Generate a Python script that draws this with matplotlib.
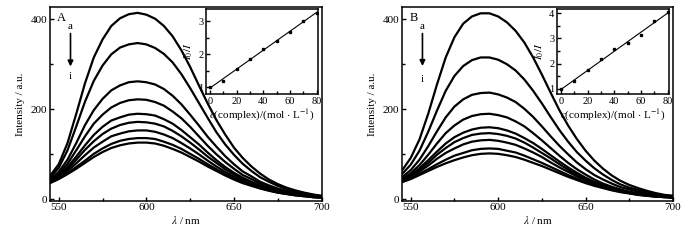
import numpy as np
import matplotlib
matplotlib.use("Agg")
import matplotlib.pyplot as plt
from matplotlib.ticker import MultipleLocator

plt.rcParams['font.family'] = ['Liberation Serif', 'DejaVu Serif']
plt.rcParams['mathtext.fontset'] = 'stix'

wavelength = list(range(545, 701, 5))

spectra_A = {
    'a': [52, 78, 125, 190, 258, 315, 355, 385, 402, 411, 414, 410, 401, 385, 362, 331, 294, 253, 213, 176, 144, 115, 92, 73, 57, 44, 34, 26, 20, 15, 11, 8],
    'b': [48, 70, 109, 162, 217, 263, 297, 322, 337, 344, 347, 344, 336, 323, 304, 278, 247, 214, 181, 149, 122, 99, 79, 63, 49, 39, 30, 23, 17, 14, 10, 7],
    'c': [44, 61, 88, 125, 165, 198, 223, 242, 253, 260, 262, 260, 255, 245, 230, 211, 188, 164, 139, 117, 96, 78, 62, 51, 39, 31, 24, 19, 14, 11, 8, 5],
    'd': [41, 56, 79, 109, 140, 168, 188, 204, 214, 220, 222, 221, 216, 208, 195, 180, 161, 140, 119, 100, 83, 68, 54, 45, 35, 27, 22, 16, 13, 10, 7, 5],
    'e': [40, 52, 72, 95, 120, 143, 161, 175, 182, 188, 190, 189, 186, 178, 168, 154, 138, 122, 104, 87, 72, 59, 48, 39, 31, 24, 19, 15, 11, 9, 6, 5],
    'f': [39, 50, 67, 88, 110, 129, 145, 157, 165, 170, 172, 171, 168, 162, 152, 140, 126, 111, 95, 81, 67, 55, 45, 37, 29, 23, 18, 14, 11, 8, 6, 4],
    'g': [38, 48, 63, 80, 98, 115, 128, 140, 146, 151, 153, 153, 150, 144, 136, 125, 113, 100, 86, 73, 61, 50, 41, 33, 26, 21, 16, 13, 10, 8, 5, 4],
    'h': [37, 46, 58, 72, 86, 101, 113, 123, 130, 134, 136, 136, 134, 128, 121, 112, 101, 90, 78, 67, 56, 46, 38, 31, 25, 20, 15, 12, 9, 7, 5, 4],
    'i': [36, 45, 56, 68, 81, 94, 105, 114, 120, 124, 126, 126, 124, 119, 112, 104, 94, 84, 73, 63, 53, 44, 36, 30, 24, 19, 15, 12, 9, 7, 5, 4],
}

spectra_B = {
    'a': [64, 92, 133, 190, 255, 315, 360, 390, 406, 413, 413, 406, 393, 374, 348, 315, 277, 237, 198, 164, 134, 108, 86, 68, 53, 41, 32, 25, 19, 14, 10, 8],
    'b': [56, 77, 108, 150, 197, 241, 274, 296, 309, 315, 315, 310, 300, 286, 266, 241, 213, 183, 154, 128, 105, 86, 69, 55, 43, 33, 26, 21, 16, 11, 9, 7],
    'c': [49, 65, 88, 118, 151, 182, 206, 222, 232, 236, 237, 233, 226, 216, 201, 183, 162, 140, 119, 100, 82, 67, 54, 44, 35, 27, 22, 17, 13, 10, 7, 5],
    'd': [45, 58, 76, 99, 124, 147, 164, 177, 185, 189, 190, 187, 182, 173, 162, 147, 131, 114, 97, 81, 67, 55, 44, 35, 28, 22, 17, 13, 10, 8, 6, 5],
    'e': [43, 54, 69, 87, 106, 124, 138, 148, 155, 159, 160, 158, 153, 146, 136, 125, 112, 98, 84, 71, 59, 48, 39, 32, 25, 20, 16, 12, 10, 7, 6, 5],
    'f': [42, 52, 66, 81, 99, 114, 127, 136, 143, 146, 147, 145, 141, 135, 126, 115, 103, 91, 78, 66, 55, 45, 37, 30, 24, 19, 15, 12, 9, 7, 6, 4],
    'g': [40, 49, 62, 75, 90, 103, 113, 122, 128, 131, 132, 130, 126, 121, 113, 104, 94, 82, 71, 61, 51, 42, 35, 28, 23, 18, 14, 11, 9, 7, 5, 4],
    'h': [39, 47, 57, 67, 78, 88, 97, 103, 109, 112, 113, 112, 108, 104, 97, 89, 81, 72, 63, 54, 46, 38, 32, 26, 21, 17, 14, 10, 8, 6, 5, 4],
    'i': [38, 45, 54, 63, 72, 80, 87, 93, 98, 101, 102, 101, 98, 94, 88, 81, 74, 66, 58, 50, 43, 36, 30, 25, 20, 16, 13, 10, 8, 6, 5, 4],
}

conc = [0, 10, 20, 30, 40, 50, 60, 70, 80]
ratio_A = [1.0, 1.2, 1.57, 1.87, 2.15, 2.4, 2.68, 3.0, 3.25]
ratio_B = [1.0, 1.33, 1.75, 2.17, 2.58, 2.82, 3.15, 3.67, 4.05]
fit_A = [0.98, 3.27]
fit_B = [0.98, 4.0]

main_xticks = [550, 600, 650, 700]
main_yticks = [0, 200, 400]

W, H = 700, 240
fig = plt.figure(figsize=(7, 2.4), dpi=100)


def fr(l, t, r, b):
    return [l / W, 1 - b / H, (r - l) / W, (b - t) / H]


def style_axes(ax, fs):
    ax.tick_params(which='both', direction='in', top=False, right=False,
                   labelsize=fs, width=1.0, pad=2)
    ax.tick_params(which='major', length=3)
    ax.tick_params(which='minor', length=2)
    for s in ax.spines.values():
        s.set_linewidth(1.1)


def panel(rect, inset_rect, spectra, letter, ratio, fit, ylim_in, yticks_in, arrow_pos):
    ax = fig.add_axes(fr(*rect))
    for k, v in spectra.items():
        ax.plot(wavelength, v, color='black', lw=1.6)
    ax.set_xlim(545, 700)
    ax.set_ylim(-3, 427)
    ax.set_xticks(main_xticks)
    ax.set_yticks(main_yticks)
    ax.xaxis.set_minor_locator(MultipleLocator(25))
    ax.yaxis.set_minor_locator(MultipleLocator(100))
    style_axes(ax, 8)
    ax.set_xlabel(r'$\lambda$ / nm', fontsize=8, labelpad=1)
    ax.set_ylabel('Intensity / a.u.', fontsize=8, labelpad=4)
    ax.text(551.5, 403, letter, fontsize=9, ha='center', va='center')
    xa, ya, yb, ytop, ybot = arrow_pos
    ax.text(xa, ya, 'a', fontsize=8, ha='center', va='center')
    ax.text(xa, yb, 'i', fontsize=8, ha='center', va='center')
    ax.annotate('', xy=(xa, ybot), xytext=(xa, ytop),
                arrowprops=dict(arrowstyle='-|>', color='black', lw=1.2,
                                mutation_scale=8, shrinkA=0, shrinkB=0))

    ins = fig.add_axes(fr(*inset_rect))
    ins.plot(conc, ratio, 's', color='black', ms=1.8)
    ins.plot([conc[0], conc[-1]], fit, color='black', lw=0.8)
    ins.set_xlim(-3, 81)
    ins.set_ylim(*ylim_in)
    ins.set_xticks([0, 20, 40, 60, 80])
    ins.set_yticks(yticks_in)
    ins.xaxis.set_minor_locator(MultipleLocator(10))
    ins.yaxis.set_minor_locator(MultipleLocator(0.5))
    style_axes(ins, 7.5)
    ins.set_xlabel(r'$c$(complex)/(mol $\cdot$ L$^{-1}$)', fontsize=8, labelpad=1)
    ins.set_ylabel(r'$I_0/I$', fontsize=8, labelpad=2)
    return ax, ins


panel((50, 7, 321.5, 200.7), (206, 9, 318, 94), spectra_A, 'A', ratio_A, fit_A,
      (0.8, 3.37), [1, 2, 3], (556.7, 383, 272, 368, 295))
panel((402, 7, 673, 200.7), (557, 9, 669, 94), spectra_B, 'B', ratio_B, fit_B,
      (0.8, 4.16), [1, 2, 3, 4], (556.7, 383, 267, 368, 296))

fig.savefig('out.png', dpi=100)
